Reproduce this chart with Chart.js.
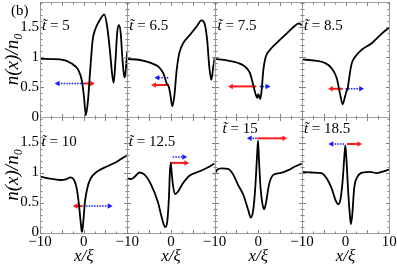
<!DOCTYPE html>
<html>
<head>
<meta charset="utf-8">
<script src="https://cdn.jsdelivr.net/npm/chart.js@4"></script>
<style>
html, body { margin: 0; padding: 0; background: #fff; overflow: hidden; }
#wrap { position: relative; width: 397px; height: 271px; overflow: hidden; }
#wrap canvas { position: absolute; left: -20px; top: -20px; }
</style>
</head>
<body>
<div id="wrap"></div>
<script>
// time of each panel (t tilde)
const times = ["5", "6.5", "7.5", "8.5", "10", "12.5", "15", "18.5"];

// density profiles n(x)/n0
const x1 = [-10, -5.4, -2.75, -1.2, -0.45, 0.08, 0.5, 1.0, 1.45, 2.06, 2.6, 3.74, 4.73, 5.4, 6.0, 6.5, 6.87, 7.3, 7.7, 8.1, 8.5, 8.85, 9.24, 9.47, 9.77, 10];
const n1 = [0.97, 0.96, 0.89, 0.78, 0.62, 0.34, 0.03, 0.28, 0.73, 1.28, 1.45, 1.62, 1.71, 1.5, 1.12, 0.73, 0.57, 0.95, 1.42, 1.53, 1.39, 1.0, 0.7, 0.66, 0.89, 1.1];

const x2 = [-10, -7.1, -4.8, -2.9, -1.75, -0.98, -0.45, -0.07, 0.3, 0.76, 1.31, 1.9, 2.8, 4.36, 5.9, 7.0, 7.8, 8.3, 8.78, 9.24, 9.7, 10];
const n2 = [0.967, 0.95, 0.905, 0.84, 0.73, 0.56, 0.49, 0.34, 0.18, 0.34, 0.78, 1.06, 1.23, 1.37, 1.51, 1.61, 1.53, 1.28, 0.84, 0.62, 0.84, 0.98];

const x3 = [-10, -6.9, -4.6, -3.04, -1.9, -1.14, -0.6, -0.22, 0.0, 0.2, 0.47, 0.78, 1.16, 1.7, 2.7, 4.6, 6.5, 8.4, 9.3, 10];
const n3 = [0.967, 0.94, 0.9, 0.84, 0.73, 0.53, 0.38, 0.32, 0.38, 0.35, 0.3, 0.45, 0.78, 1.0, 1.12, 1.26, 1.39, 1.52, 1.56, 1.53];

const x4 = [-10, -7, -4.7, -3.16, -2.0, -1.27, -0.66, -0.13, 0.17, 0.5, 0.87, 1.4, 2.16, 3.7, 6.0, 8.3, 10];
const n4 = [0.96, 0.94, 0.9, 0.81, 0.64, 0.39, 0.21, 0.34, 0.42, 0.48, 0.67, 0.89, 1.0, 1.12, 1.23, 1.39, 1.49];

const x5 = [-10, -6.9, -5.4, -3.9, -3.0, -2.2, -1.6, -1.07, -0.69, -0.38, -0.08, 0.3, 0.84, 1.6, 3.0, 5.3, 7.6, 10];
const n5 = [0.93, 0.89, 0.875, 0.89, 0.92, 0.875, 0.74, 0.46, 0.18, 0.0, 0.18, 0.51, 0.74, 0.9, 1.01, 1.1, 1.18, 1.29];

const x6 = [-10, -9.1, -8.3, -7.2, -6.0, -4.5, -3.0, -1.85, -1.3, -0.85, -0.47, -0.24, -0.05, 0.15, 0.46, 1.0, 1.6, 2.75, 4.3, 6.6, 8.3, 10];
const n6 = [0.9, 0.89, 0.93, 1.0, 0.96, 0.79, 0.51, 0.18, 0.09, 0.18, 0.57, 1.01, 1.16, 1.01, 0.79, 0.64, 0.68, 0.82, 0.95, 1.02, 1.08, 1.15];

const x7 = [-10, -9.5, -8.4, -6.9, -5.7, -4.6, -3.4, -2.3, -1.7, -1.15, -0.69, -0.3, -0.05, 0.15, 0.53, 1.0, 1.37, 1.76, 2.44, 3.44, 4.96, 6.9, 8.4, 10];
const n7 = [0.96, 1.04, 1.07, 1.06, 0.96, 0.79, 0.625, 0.375, 0.25, 0.375, 0.74, 1.24, 1.53, 1.24, 0.74, 0.46, 0.39, 0.49, 0.79, 0.96, 0.99, 1.04, 1.1, 1.15];

const x8 = [-10, -7.8, -5.5, -4.3, -3.2, -2.3, -1.7, -1.2, -0.68, -0.3, -0.05, 0.23, 0.6, 0.99, 1.22, 1.53, 1.98, 2.75, 4.05, 5.6, 7.1, 8.25, 10];
const n8 = [1.01, 1.0, 0.99, 0.9, 0.74, 0.54, 0.47, 0.54, 0.85, 1.24, 1.45, 1.19, 0.68, 0.29, 0.14, 0.29, 0.74, 0.93, 1.0, 1.01, 0.99, 1.01, 1.05];

// arrows: height, tail x, head x
const redY = [0.56, 0.533, 0.51, 0.47, 0.44, 1.16, 1.57, 1.475];
const redFrom = [0.1, -0.45, -0.45, -0.6, -0.23, -0.22, -0.22, 0.33];
const redTo = [1.84, -3.8, -6.2, -3.27, -1.76, 3.44, 5.9, 3.07];
const blueY = [0.56, 0.655, 0.51, 0.47, 0.44, 1.26, 1.57, 1.475];
const blueFrom = [0.08, -0.61, 0.33, 0.0, -0.08, 0.4, -0.36, -0.36];
const blueTo = [-5.9, -3.04, 2.06, 3.5, 5.9, 2.98, -1.89, -3.18];

const xs = [x1, x2, x3, x4, x5, x6, x7, x8];
const ns = [n1, n2, n3, n4, n5, n6, n7, n8];

const M = 20;             // canvas overhang on each side
const colL = [40, 127.3, 214.6, 301.9];
const colW = 87.3;
const rowT = [1.5, 117];
const rowH = 115.5;
const yAxisW = 40, xAxisH = 38.5;
// where the time label sits inside each panel
const labelDx = [2, 2, 3, 2, 1.5, 1.5, 8, 2];
const labelDy = [28.5, 28.5, 28.5, 28.5, 29, 29, 16, 16];

const serif = "'Liberation Serif', 'DejaVu Serif', serif";

const framePlugin = {
    id: "frame",
    afterDraw(chart, args, opts) {
        const { ctx, chartArea: a, scales: { x, y } } = chart;
        ctx.save();
        ctx.strokeStyle = "#a0a0a0";
        ctx.lineWidth = 1;
        const l = Math.round(a.left) + 0.5, r = Math.round(a.right) + 0.5;
        const t = Math.round(a.top) + 0.5, b = Math.round(a.bottom) + 0.5;
        ctx.strokeRect(l, t, r - l, b - t);

        ctx.strokeStyle = "#808080";
        ctx.beginPath();
        for (let k = 0; k <= 8; k++) {
            const v = -10 + k * 2.5;
            const px = Math.round(x.getPixelForValue(v)) + 0.5;
            const len = k % 2 === 0 ? 3.5 : 2;
            ctx.moveTo(px, b); ctx.lineTo(px, b - len);
            ctx.moveTo(px, t); ctx.lineTo(px, t + len);
        }
        for (let k = 0; k <= 19; k++) {
            const py = Math.round(y.getPixelForValue(k / 10)) + 0.5;
            const len = k % 5 === 0 ? 3.5 : 2;
            ctx.moveTo(l, py); ctx.lineTo(l + len, py);
            ctx.moveTo(r, py); ctx.lineTo(r - len, py);
        }
        ctx.stroke();

        // panel time label
        ctx.fillStyle = "#000";
        ctx.textBaseline = "alphabetic";
        const lx = a.left + opts.dx, ly = a.top + opts.dy;
        ctx.font = "italic 15px " + serif;
        ctx.fillText("t\u0303", lx, ly);
        const w = ctx.measureText("t").width;
        ctx.font = "15px " + serif;
        ctx.fillText(" = " + opts.label, lx + w, ly);

        if (opts.first) {
            ctx.font = "15px " + serif;
            ctx.fillText("(b)", M + 11, M + 15);
        }
        ctx.restore();
    }
};

function arrowSet(y, from, to, color, dashed) {
    const rot = to > from ? 90 : -90;
    return {
        data: [{ x: from, y: y }, { x: to, y: y }],
        borderColor: color,
        backgroundColor: color,
        borderWidth: dashed ? 1.5 : 2,
        borderDash: dashed ? [1.5, 1.2] : [],
        pointStyle: "triangle",
        pointRadius: [0, 3.2],
        pointRotation: rot,
        pointBorderWidth: 0,
        pointBackgroundColor: color,
        clip: false
    };
}

const wrap = document.getElementById("wrap");

for (let i = 0; i < 8; i++) {
    const col = i % 4, row = Math.floor(i / 4);
    const L = colL[col], R = L + colW;
    const T = rowT[row], B = T + rowH;
    const leftCol = col === 0, bottomRow = row === 1, lastPanel = i === 7;

    const canvas = document.createElement("canvas");
    canvas.width = 397 + 2 * M;
    canvas.height = 271 + 2 * M;
    wrap.appendChild(canvas);

    const curve = xs[i].map((v, k) => ({ x: v, y: ns[i][k] }));

    new Chart(canvas, {
        type: "line",
        data: {
            datasets: [
                {
                    data: curve,
                    borderColor: "#000",
                    borderWidth: 1.8,
                    pointRadius: 0,
                    cubicInterpolationMode: "monotone"
                },
                arrowSet(blueY[i], blueFrom[i], blueTo[i], "#1a1aff", true),
                arrowSet(redY[i], redFrom[i], redTo[i], "#ff1a1a", false)
            ]
        },
        options: {
            responsive: false,
            animation: false,
            devicePixelRatio: 1,
            layout: {
                padding: {
                    left: M + L - yAxisW,
                    right: M + 397 - R,
                    top: M + T,
                    bottom: M + 271 - B - xAxisH
                }
            },
            plugins: {
                legend: { display: false },
                tooltip: { enabled: false },
                frame: { label: times[i], first: i === 0, dx: labelDx[i], dy: labelDy[i] }
            },
            scales: {
                x: {
                    type: "linear",
                    min: -10,
                    max: 10,
                    afterFit: s => { s.height = xAxisH; },
                    grid: { display: false, drawTicks: false },
                    border: { display: false },
                    ticks: {
                        display: bottomRow,
                        stepSize: 5,
                        autoSkip: false,
                        maxRotation: 0,
                        padding: 1,
                        color: "#000",
                        font: { family: serif, size: 15 },
                        callback: v => {
                            if (v === -10) return "\u221210";
                            if (v === 0) return "0";
                            if (v === 10 && lastPanel) return "10";
                            return "";
                        }
                    },
                    title: {
                        display: bottomRow,
                        text: "x/\u03be",
                        color: "#000",
                        font: { family: serif, size: 17, style: "italic" },
                        padding: { top: 0, bottom: 4 }
                    }
                },
                y: {
                    min: 0,
                    max: 1.925,
                    afterFit: s => { s.width = yAxisW; },
                    grid: { display: false, drawTicks: false },
                    border: { display: false },
                    ticks: {
                        display: leftCol,
                        stepSize: 0.5,
                        includeBounds: false,
                        padding: 1,
                        color: "#000",
                        font: { family: serif, size: 15 },
                        callback: v => String(v)
                    },
                    title: {
                        display: leftCol,
                        text: "n(x)/n\u2080",
                        color: "#000",
                        font: { family: serif, size: 19, style: "italic" },
                        padding: { top: 2, bottom: 0 }
                    }
                }
            }
        },
        plugins: [framePlugin]
    });
}
</script>
</body>
</html>
